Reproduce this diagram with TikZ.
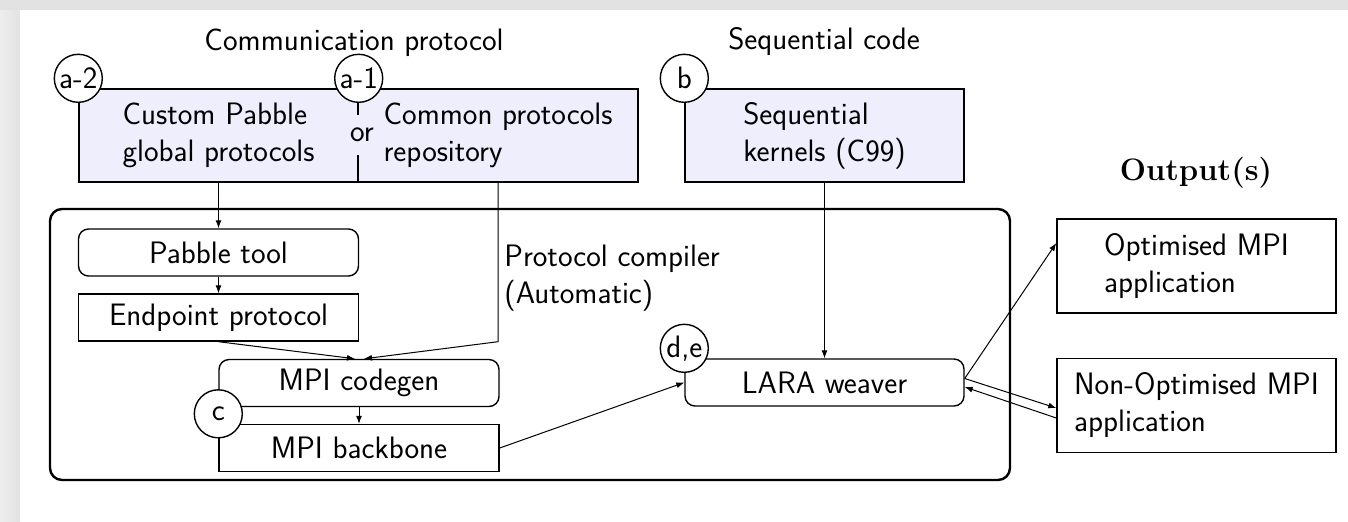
\documentclass[tikz,border=0pt]{standalone}
\usetikzlibrary{arrows.meta}
\definecolor{inputfill}{RGB}{238,238,252}
\definecolor{pagegray}{RGB}{226,226,226}

\begin{document}
\begin{tikzpicture}[x=0.5pt,y=-0.5pt,
    every node/.style={font=\fontsize{15.5}{18.5}\selectfont\sffamily},
    inbox/.style={draw,fill=inputfill,line width=0.7pt,minimum height=46.5pt,align=left},
    toolbox/.style={draw,line width=0.7pt,rounded corners=5pt,minimum width=140pt,minimum height=23.5pt},
    filebox/.style={draw,line width=0.7pt,minimum width=140pt,minimum height=23.5pt},
    outbox/.style={draw,line width=0.7pt,minimum width=139.5pt,minimum height=47pt,align=left},
    tag/.style={draw,circle,fill=white,line width=0.7pt,inner sep=0pt,minimum size=24pt,yshift=5pt},
    arr/.style={-{Latex[length=4pt,width=3pt]},line width=0.5pt}]
    \useasboundingbox (0,0) rectangle (1348,521);
    \fill[pagegray] (0,0) rectangle (1348,521);
    \shade[left color=pagegray!60,right color=pagegray] (0,10) rectangle (20,521);
    \fill[white] (20,10) rectangle (1348,521);

    % inputs
    \node (commtitle) at (354,43) {Communication protocol};
    \node (seqtitle) at (824,42) {Sequential code};
    \node[inbox,minimum width=139.5pt] (custom) at (218.5,135.5) {Custom Pabble\\global protocols};
    \node[inbox,minimum width=140pt] (common) at (498,135.5) {Common protocols\\repository};
    \node[fill=inputfill,inner sep=0pt,minimum height=20pt] (or) at (362,135) {or};
    \node[inbox,minimum width=139.5pt] (seq) at (824.5,135.5) {Sequential\\kernels (C99)};

    % compiler
    \draw[line width=1.2pt,rounded corners=6pt] (50,209) rectangle (1010,480);
    \node[toolbox] (pabble) at (218.5,252.5) {Pabble tool};
    \node[filebox] (endpoint) at (218.5,317.5) {Endpoint protocol};
    \node[toolbox] (codegen) at (359,383) {MPI codegen};
    \node[filebox] (backbone) at (359,448) {MPI backbone};
    \node[toolbox,minimum width=139.5pt] (lara) at (824.5,382.5) {LARA weaver};
    \node[anchor=north west,align=left,inner sep=0pt] (pclabel) at (504,245) {Protocol compiler\\(Automatic)};

    % outputs
    \node (outtitle) at (1196,173) {\rmfamily\bfseries Output(s)};
    \node[outbox] (optim) at (1196.5,266) {Optimised MPI\\application};
    \node[outbox] (nonopt) at (1196.5,405.5) {Non-Optimised MPI\\application};

    \node[tag] (a2) at (custom.north west) {a-2};
    \node[tag] (a1) at (custom.north east) {a-1};
    \node[tag] (b) at (seq.north west) {b};
    \node[tag] (c) at (backbone.north west) {c};
    \node[tag] (de) at (lara.north west) {d,e};

    \draw[arr] (custom.south) -- (pabble.north);
    \draw[arr] (pabble) -- (endpoint);
    \draw[arr] (endpoint.south) -- ([xshift=-2pt]codegen.north);
    \draw[arr] (common.south) -- (common.south |- endpoint.south) -- ([xshift=2.5pt]codegen.north);
    \draw[arr] (codegen) -- (backbone);
    \draw[arr] (backbone.east) -- (lara.west);
    \draw[arr] (seq) -- (lara);
    \draw[arr] ([yshift=2pt]lara.east) -- ([yshift=11.5pt]optim.west);
    \draw[arr] ([yshift=2pt]lara.east) -- ([yshift=-1.25pt]nonopt.west);
    \draw[arr] ([yshift=-6.25pt]nonopt.west) -- ([yshift=-2.25pt]lara.east);
\end{tikzpicture}
\end{document}
